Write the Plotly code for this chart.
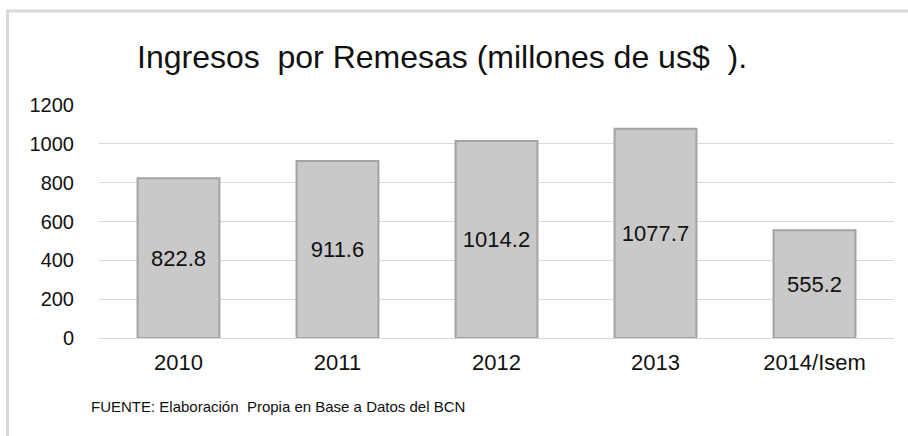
import plotly.graph_objects as go

categories = ["2010", "2011", "2012", "2013", "2014/Isem"]
values = [822.8, 911.6, 1014.2, 1077.7, 555.2]
value_labels = ["822.8", "911.6", "1014.2", "1077.7", "555.2"]
y_ticks = [0, 200, 400, 600, 800, 1000, 1200]

title_text = "Ingresos  por Remesas (millones de us$  )."
source_text = "FUENTE: Elaboración  Propia en Base a Datos del BCN"

W, H = 908, 436
L, R, T, B = 99, 14, 105, 98

fig = go.Figure()
fig.add_trace(go.Bar(
    x=categories, y=values,
    text=value_labels, textposition="inside", insidetextanchor="middle",
    textfont=dict(family="Liberation Sans, Arial", size=22, color="#111111"),
    marker=dict(color="#c9c9c9", line=dict(color="#a3a3a3", width=2)),
    width=0.515,
    cliponaxis=False,
))

pw = W - L - R
ph = H - T - B
def px_x(p):
    return (p - L) / pw
def px_y(p):
    return (H - B - p) / ph

fig.update_layout(
    width=W, height=H,
    margin=dict(l=L, r=R, t=T, b=B),
    paper_bgcolor="white", plot_bgcolor="white",
    showlegend=False,
    font=dict(family="Liberation Sans, Arial", color="#111111"),
    title=dict(text=title_text, x=442 / W, xanchor="center", xref="container",
               y=1 - 57 / H, yanchor="middle", yref="container",
               font=dict(size=32, color="#111111")),
    xaxis=dict(showgrid=False, showline=False, zeroline=False, ticks="",
               tickfont=dict(size=22, color="#111111"), ticklabelstandoff=9),
    yaxis=dict(range=[0, 1200], tickvals=y_ticks, showgrid=True,
               gridcolor="#d9d9d9", gridwidth=1, zeroline=True,
               zerolinecolor="#d9d9d9", zerolinewidth=1, showline=False,
               ticks="", tickfont=dict(size=20, color="#111111"),
               ticklabelstandoff=24),
    shapes=[dict(type="rect", xref="paper", yref="paper",
                 x0=px_x(7.5), x1=px_x(960), y0=px_y(480), y1=px_y(11),
                 line=dict(color="#d9d9d9", width=3), fillcolor="rgba(0,0,0,0)",
                 layer="below")],
    annotations=[dict(text=source_text, xref="paper", yref="paper",
                      x=px_x(89), y=px_y(406), xanchor="left", yanchor="middle",
                      showarrow=False,
                      font=dict(family="Liberation Sans, Arial",
                                size=15, color="#111111"))],
)

fig.write_html("out.html", config={"displayModeBar": False},
               post_script="document.body.style.margin='0';document.body.style.overflow='hidden';")
